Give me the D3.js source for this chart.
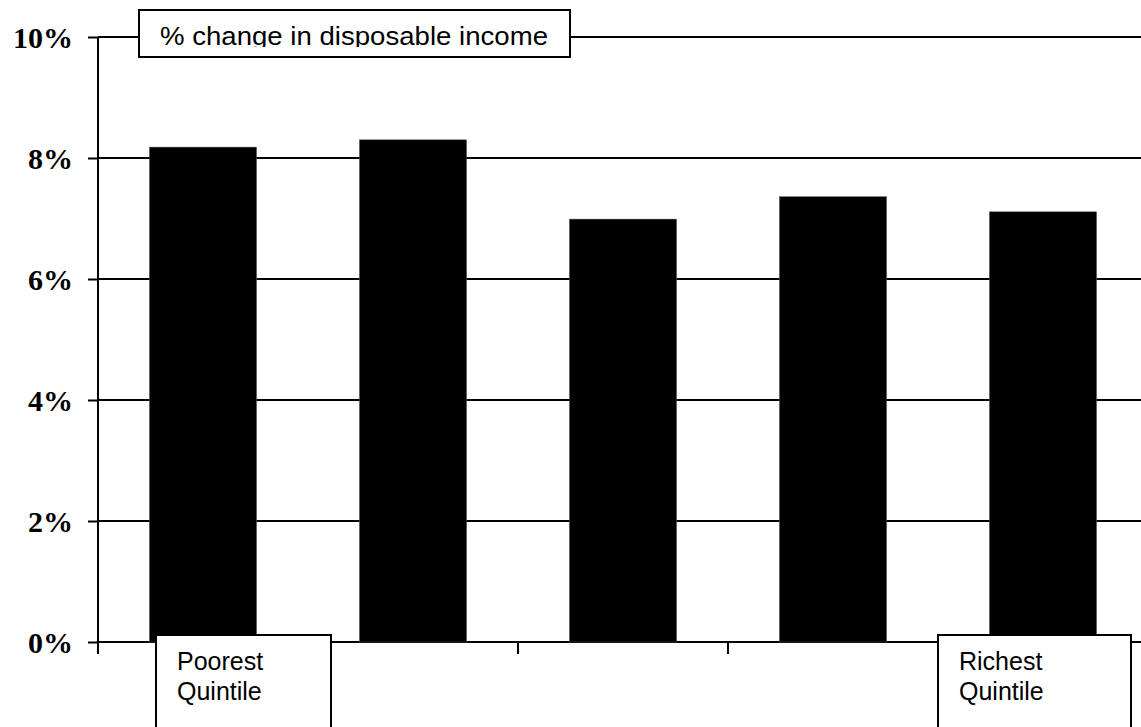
<!DOCTYPE html>
<html>
<head>
<meta charset="utf-8">
<script src="https://cdn.jsdelivr.net/npm/d3@7"></script>
<style>
  body { margin: 0; background: #fff; }
  svg { display: block; }
</style>
</head>
<body>
<svg id="chart" width="1141" height="727"></svg>
<script>
// quintiles, poorest to richest
var quintiles = ["Q1", "Q2", "Q3", "Q4", "Q5"];
var changeValues = [0.0818, 0.0830, 0.0699, 0.0736, 0.0711];
var yTickValues = [0, 0.02, 0.04, 0.06, 0.08, 0.10];
var titleText = "% change in disposable income";
var poorestLabel = ["Poorest", "Quintile"];
var richestLabel = ["Richest", "Quintile"];

var svg = d3.select("#chart");
var W = 1141, H = 727;
// note: "top" is taken by window.top, so plot edges get a prefix
var plotLeft = 98, plotRight = 1148, plotTop = 37, plotBottom = 642;

var x = d3.scaleBand()
  .domain(quintiles)
  .range([plotLeft, plotRight])
  .paddingInner(0.49)
  .paddingOuter(0.245);

var y = d3.scaleLinear()
  .domain([0, 0.10])
  .range([plotBottom, plotTop]);

// gridlines
svg.append("g")
  .selectAll("line")
  .data(yTickValues)
  .join("line")
  .attr("x1", plotLeft)
  .attr("x2", W)
  .attr("y1", function(d) { return y(d); })
  .attr("y2", function(d) { return y(d); })
  .attr("stroke", "#000")
  .attr("stroke-width", 2);

// y axis ticks + labels
var yAxis = svg.append("g")
  .attr("transform", "translate(" + plotLeft + ",0)")
  .call(d3.axisLeft(y).tickValues(yTickValues).tickSize(10).tickPadding(15)
    .tickFormat(function(d) { return Math.round(d * 100) + "%"; }));
yAxis.select(".domain").remove();
yAxis.selectAll(".tick line").attr("stroke", "#000").attr("stroke-width", 2);
yAxis.selectAll(".tick text")
  .attr("fill", "#000")
  .attr("dy", "0.35em")
  .style("font-family", "'Liberation Serif', 'Times New Roman', serif")
  .style("font-weight", "bold")
  .style("font-size", "30px");

// vertical axis line
svg.append("line")
  .attr("x1", plotLeft).attr("x2", plotLeft)
  .attr("y1", y(0.10)).attr("y2", plotBottom + 12)
  .attr("stroke", "#000").attr("stroke-width", 2);

// category boundary ticks
var boundaries = quintiles.map(function(q) {
  return x(q) - x.step() * x.paddingInner() / 2;
}).slice(1);
svg.append("g")
  .selectAll("line")
  .data(boundaries)
  .join("line")
  .attr("x1", function(d) { return d; })
  .attr("x2", function(d) { return d; })
  .attr("y1", plotBottom)
  .attr("y2", plotBottom + 12)
  .attr("stroke", "#000")
  .attr("stroke-width", 2);

// bars
svg.append("g")
  .selectAll("rect")
  .data(changeValues)
  .join("rect")
  .attr("x", function(d, i) { return x(quintiles[i]); })
  .attr("width", x.bandwidth())
  .attr("y", function(d) { return y(d); })
  .attr("height", function(d) { return y(0) - y(d); })
  .attr("fill", "#000")
  .attr("stroke", "#555")
  .attr("stroke-width", 0.5);

// title box
var clip = svg.append("clipPath").attr("id", "titleClip");
clip.append("rect").attr("x", 139).attr("y", 10).attr("width", 431).attr("height", 37);
svg.append("rect")
  .attr("x", 139).attr("y", 10)
  .attr("width", 431).attr("height", 47)
  .attr("fill", "#fff").attr("stroke", "#000").attr("stroke-width", 2);
svg.append("text")
  .attr("x", 160).attr("y", 45)
  .attr("clip-path", "url(#titleClip)")
  .style("font-family", "'Liberation Sans', Arial, sans-serif")
  .style("font-size", "26px")
  .attr("textLength", 388)
  .attr("lengthAdjust", "spacingAndGlyphs")
  .text(titleText);

// quintile label boxes
function labelBox(bx, bw, lines) {
  var g = svg.append("g");
  g.append("rect")
    .attr("x", bx).attr("y", 635)
    .attr("width", bw).attr("height", 110)
    .attr("fill", "#fff").attr("stroke", "#000").attr("stroke-width", 2);
  g.selectAll("text")
    .data(lines)
    .join("text")
    .attr("x", bx + 21)
    .attr("y", function(d, i) { return 670 + i * 30; })
    .style("font-family", "'Liberation Sans', Arial, sans-serif")
    .style("font-size", "25px")
    .text(function(d) { return d; });
}
labelBox(156, 175, poorestLabel);
labelBox(938, 193, richestLabel);
</script>
</body>
</html>
